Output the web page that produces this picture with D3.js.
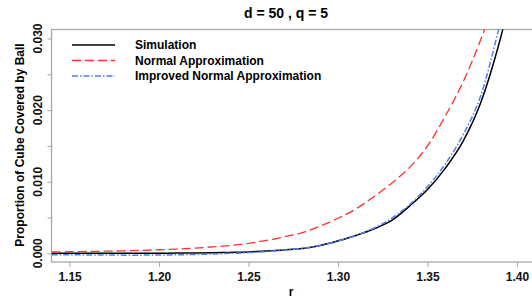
<!DOCTYPE html>
<html>
<head>
<meta charset="utf-8">
<script src="https://cdn.jsdelivr.net/npm/d3@7"></script>
<style>
  body { margin: 0; background: #fff; }
  text { font-family: "Liberation Sans", Arial, sans-serif; font-weight: bold; }
</style>
</head>
<body>
<div id="chart"></div>
<script>
// r grid and the three curves
var rValues = [1.14, 1.15, 1.16, 1.17, 1.18, 1.19, 1.20, 1.21, 1.22, 1.23, 1.24, 1.25, 1.26,
  1.27, 1.28, 1.29, 1.30, 1.31, 1.32, 1.33, 1.34, 1.35, 1.36, 1.37, 1.38, 1.39, 1.40];
var simulation = [0, 0, 0, 0, 0, 0, 0.00002, 0.00003, 0.00005, 0.00008, 0.00013, 0.0002, 0.00032,
  0.00048, 0.00068, 0.0011, 0.00175, 0.0025, 0.0034, 0.0046, 0.0066, 0.0089, 0.0119, 0.0157, 0.0212, 0.0293, 0.0395];
var normalApprox = [0.0002, 0.00022, 0.00026, 0.0003, 0.00035, 0.00042, 0.0005, 0.0006, 0.00073, 0.0009, 0.0011, 0.0014, 0.0018,
  0.0023, 0.0029, 0.0038, 0.0049, 0.0062, 0.0079, 0.0098, 0.0120, 0.0150, 0.0192, 0.0240, 0.0300, 0.0370, 0.045];
var improvedApprox = [-0.0002, -0.0002, -0.00022, -0.00024, -0.00025, -0.00025, -0.00024, -0.0002, -0.00015, -0.0001, 0, 0.0001, 0.00025,
  0.00045, 0.0007, 0.0011, 0.0017, 0.0025, 0.0035, 0.0049, 0.0068, 0.0093, 0.0125, 0.0166, 0.0222, 0.0315, 0.042];

var xTicks = [1.15, 1.20, 1.25, 1.30, 1.35, 1.40];
var yTicks = [0, 0.005, 0.010, 0.015, 0.020, 0.025, 0.030];
var yLabelled = [0, 0.010, 0.020, 0.030];

var seriesNames = ["Simulation", "Normal Approximation", "Improved Normal Approximation"];

var W = 532, H = 299;
var plot = {left: 51.5, top: 29.5, right: 540, bottom: 262};

var svg = d3.select("#chart").append("svg")
  .attr("width", W)
  .attr("height", H);

var x = d3.scaleLinear()
  .domain([1.1399, 1.4084])
  .range([plot.left, 532]);

var y = d3.scaleLinear()
  .domain([-0.00121, 0.03126])
  .range([plot.bottom, plot.top]);

svg.append("defs").append("clipPath")
  .attr("id", "clip")
  .append("rect")
  .attr("x", plot.left)
  .attr("y", plot.top)
  .attr("width", plot.right - plot.left)
  .attr("height", plot.bottom - plot.top);

// frame
svg.append("rect")
  .attr("x", plot.left)
  .attr("y", plot.top)
  .attr("width", plot.right - plot.left)
  .attr("height", plot.bottom - plot.top)
  .attr("fill", "none")
  .attr("stroke", "#a8a8a8")
  .attr("stroke-width", 1.3);

// x axis
var gx = svg.append("g").attr("transform", "translate(0," + plot.bottom + ")")
  .call(d3.axisBottom(x).tickValues(xTicks).tickFormat(d3.format(".2f")).tickSize(5).tickSizeOuter(0));
gx.select(".domain").remove();
gx.selectAll("line").attr("stroke", "#a8a8a8");
gx.selectAll("text").attr("font-size", 12).attr("fill", "#111").attr("dy", "0.9em");

// y axis
var gy = svg.append("g").attr("transform", "translate(" + plot.left + ",0)")
  .call(d3.axisLeft(y).tickValues(yTicks).tickSize(4).tickFormat(""));
gy.select(".domain").remove();
gy.selectAll("line").attr("stroke", "#a8a8a8");

svg.append("g").selectAll("text")
  .data(yLabelled)
  .join("text")
    .attr("transform", d => "translate(38," + y(d) + ") rotate(-90)")
    .attr("text-anchor", "middle")
    .attr("dy", "0.35em")
    .attr("font-size", 12)
    .attr("fill", "#111")
    .text(d => d3.format(".3f")(d));

// titles
svg.append("text")
  .attr("x", 286)
  .attr("y", 18)
  .attr("text-anchor", "middle")
  .attr("font-size", 14)
  .text("d = 50 , q = 5");

svg.append("text")
  .attr("x", 291)
  .attr("y", 296)
  .attr("text-anchor", "middle")
  .attr("font-size", 12)
  .text("r");

svg.append("text")
  .attr("transform", "translate(20," + 145 + ") rotate(-90)")
  .attr("text-anchor", "middle")
  .attr("dy", "0.35em")
  .attr("font-size", 12)
  .text("Proportion of Cube Covered by Ball");

// curves
var styles = [
  {color: "#000000", dash: null, width: 1.5},
  {color: "#ff3030", dash: "9,4", width: 1.3},
  {color: "#4f7df5", dash: "6,2,1.5,2", width: 1.5}
];
var series = [simulation, normalApprox, improvedApprox];

var line = d3.line()
  .x(d => x(d[0]))
  .y(d => y(d[1]))
  .curve(d3.curveMonotoneX);

var gLines = svg.append("g").attr("clip-path", "url(#clip)");
series.forEach(function(vals, i) {
  gLines.append("path")
    .datum(rValues.map((r, j) => [r, vals[j]]))
    .attr("fill", "none")
    .attr("stroke", styles[i].color)
    .attr("stroke-width", styles[i].width)
    .attr("stroke-dasharray", styles[i].dash)
    .attr("d", line);
});

// legend
var legend = svg.append("g");
seriesNames.forEach(function(name, i) {
  var ly = 45 + i * 15.5;
  legend.append("line")
    .attr("x1", 72).attr("x2", 115)
    .attr("y1", ly).attr("y2", ly)
    .attr("stroke", styles[i].color)
    .attr("stroke-width", styles[i].width)
    .attr("stroke-dasharray", styles[i].dash);
  legend.append("text")
    .attr("x", 135)
    .attr("y", ly)
    .attr("dy", "0.35em")
    .attr("font-size", 12)
    .text(name);
});
</script>
</body>
</html>
